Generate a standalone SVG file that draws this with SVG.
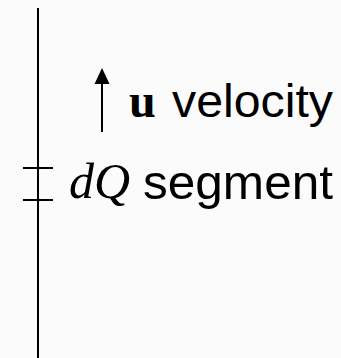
<svg xmlns="http://www.w3.org/2000/svg" width="341" height="358" viewBox="0 0 341 358">
<style>
.ln{stroke:#000;stroke-width:2;fill:none}
.sans{font-family:"Liberation Sans",Arial,sans-serif;fill:#000}
.serif{font-family:"Liberation Serif","Times New Roman",serif;fill:#000}
</style>
<rect width="341" height="358" fill="#fbfbfb"/>
<g id="body">
<line class="ln" x1="38" y1="8" x2="38" y2="358"/>
</g>
<g id="segment">
<line class="ln" x1="23" y1="168" x2="53" y2="168"/>
<line class="ln" x1="23" y1="200" x2="53" y2="200"/>
<text class="serif" x="69" y="198" font-size="50" font-style="italic">dQ</text>
<text class="sans" x="143" y="199" font-size="49" textLength="190" lengthAdjust="spacingAndGlyphs">segment</text>
</g>
<g id="velocity">
<line class="ln" x1="102" y1="132" x2="102" y2="82"/>
<polygon points="102,68 94.5,84 109.5,84" fill="#000"/>
<text class="serif" x="129" y="117" font-size="48" font-weight="bold">u</text>
<text class="sans" x="172" y="117" font-size="46" textLength="161" lengthAdjust="spacingAndGlyphs">velocity</text>
</g>
</svg>
